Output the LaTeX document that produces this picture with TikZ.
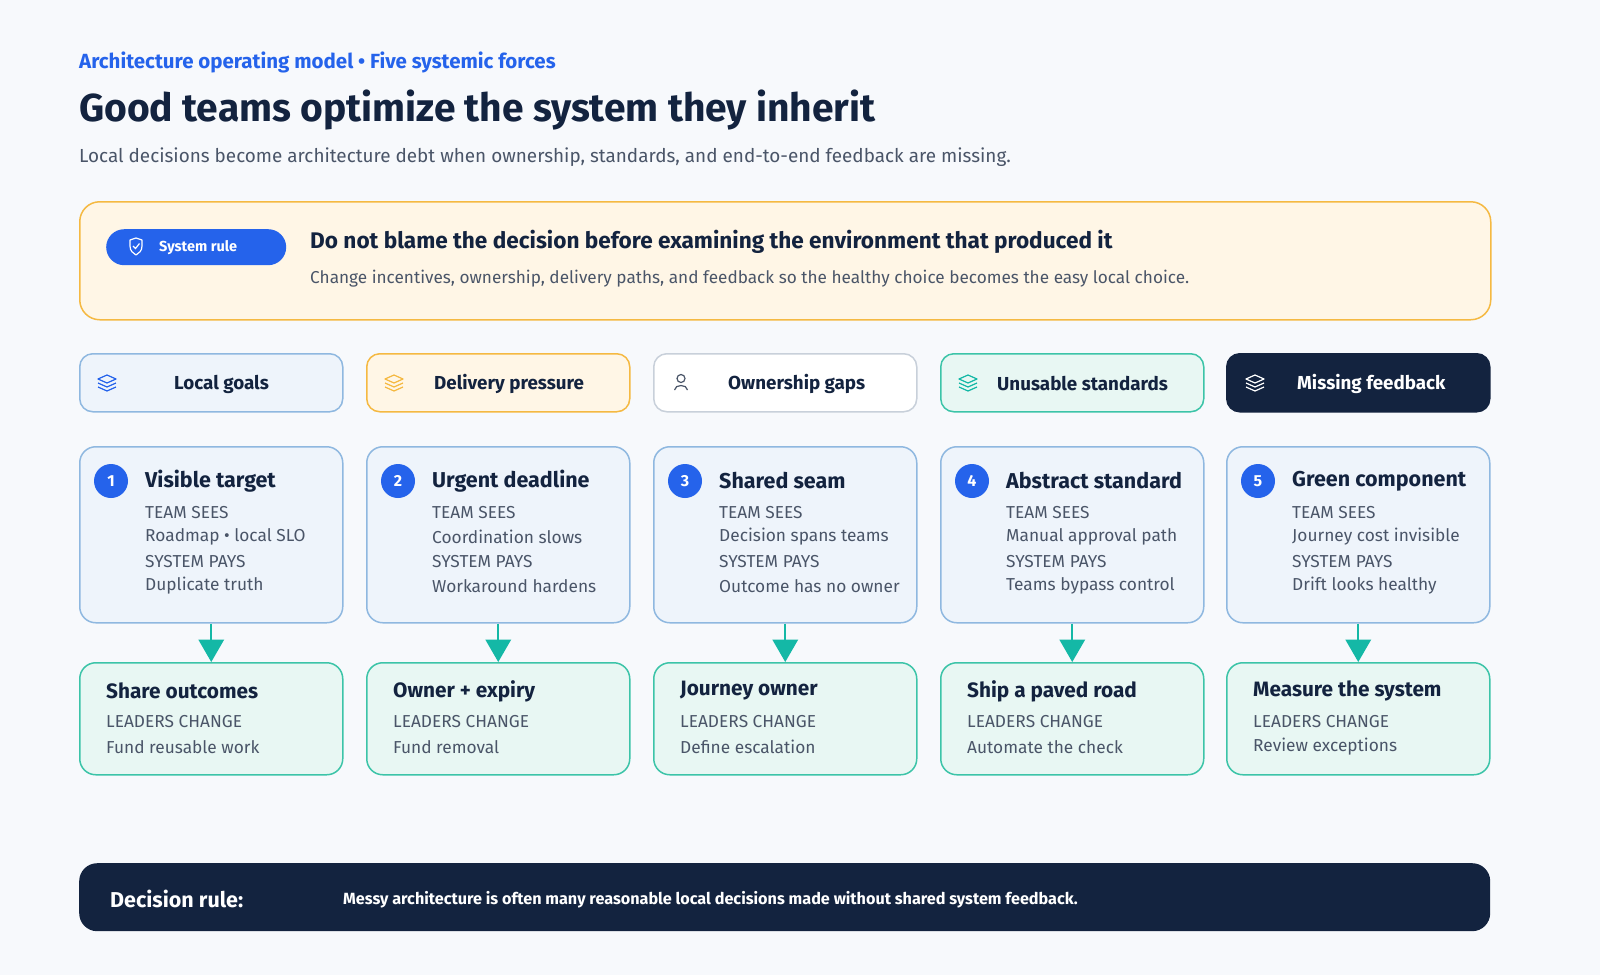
\documentclass[tikz,border=0pt]{standalone}
\usepackage{fontspec}
\setmainfont{Fira Sans}
\begin{document}
\begin{tikzpicture}[x=1pt,y=-1pt,
  txt/.style={anchor=west,inner sep=0pt},
  force/.style={rounded corners=13pt,line width=1.5pt,minimum width=263pt,minimum height=58pt,anchor=north west},
  card/.style={rounded corners=16pt,line width=1.5pt,draw=cardB,fill=cardF,minimum width=263pt,minimum height=176pt,anchor=north west},
  act/.style={rounded corners=16pt,line width=1.5pt,draw=mintB,fill=mintF,minimum width=263pt,minimum height=112pt,anchor=north west},
  num/.style={circle,fill=blue1,text=white,minimum size=34pt,inner sep=0pt,font=\fontsize{16}{16}\selectfont\bfseries},
  ctitle/.style={txt,font=\fontsize{21.5}{21}\selectfont\bfseries,text=navy},
  cline/.style={txt,font=\fontsize{17.3}{17}\selectfont,text=gray1},
  arr/.style={draw=teal1,line width=2pt},
  ftxt/.style={font=\fontsize{18.8}{18}\selectfont\bfseries}
]
\definecolor{navy}{HTML}{13233F}
\definecolor{blue1}{HTML}{2563EB}
\definecolor{gray1}{HTML}{4A5568}
\definecolor{cardB}{HTML}{8FB8E0}
\definecolor{cardF}{HTML}{EEF4FB}
\definecolor{mintB}{HTML}{3CC4A8}
\definecolor{mintF}{HTML}{E8F7F3}
\definecolor{orB}{HTML}{F5B942}
\definecolor{orF}{HTML}{FFF6E6}
\definecolor{grB}{HTML}{C8D0DA}
\definecolor{teal1}{HTML}{14B8A6}
\definecolor{bg}{HTML}{F7F9FC}
\fill[bg] (0,0) rectangle (1600,975);
\useasboundingbox (0,0) rectangle (1600,975);

\node[txt,font=\fontsize{20.5}{20}\selectfont\bfseries,text=blue1] (kick) at (79,62) {Architecture operating model • Five systemic forces};
\node[txt,font=\fontsize{39}{39}\selectfont\bfseries,text=navy] (title) at (79,110) {Good teams optimize the system they inherit};
\node[txt,font=\fontsize{18.9}{19}\selectfont,text=gray1] (sub) at (79,157) {Local decisions become architecture debt when ownership, standards, and end-to-end feedback are missing.};

\node[draw=orB,fill=orF,line width=1.5pt,rounded corners=20pt,minimum width=1411pt,minimum height=118pt,anchor=north west] (rule) at (79,201) {};
\node[fill=blue1,rounded corners=18pt,minimum width=180pt,minimum height=36pt,anchor=north west] (pill) at (106,229) {};
\node[txt,text=white,font=\fontsize{14.5}{14}\selectfont\bfseries] (pilltxt) at (159,248) {System rule};
\draw[white,line width=1.2pt,line join=round] (130,240) -- (136,238) -- (142,240) -- (142,246) .. controls (142,251) and (139,253) .. (136,255) .. controls (133,253) and (130,251) .. (130,246) -- cycle;
\draw[white,line width=1.2pt] (133,246) -- (135.5,248.5) -- (139.5,243.5);
\node[txt,font=\fontsize{22.6}{22}\selectfont\bfseries,text=navy] (rh) at (310,242) {Do not blame the decision before examining the environment that produced it};
\node[txt,font=\fontsize{17.2}{17}\selectfont,text=gray1] (rs) at (310,279) {Change incentives, ownership, delivery paths, and feedback so the healthy choice becomes the easy local choice.};

% forces
\def\layers#1#2#3{%
  \begin{scope}[shift={(#1,#2)},draw=#3,line width=1.2pt,line join=round]
  \draw (0,-6) -- (9,-2) -- (0,2) -- (-9,-2) -- cycle;
  \draw (-9,2) -- (0,6) -- (9,2);
  \draw (-9,6) -- (0,10) -- (9,6);
  \end{scope}}
\node[force,draw=cardB,fill=cardF] (f1) at (79,353) {};
\layers{107}{381}{blue1}
\node[txt,ftxt,text=navy] (f1t) at (174,384) {Local goals};
\node[force,draw=orB,fill=orF] (f2) at (366,353) {};
\layers{394}{381}{orB}
\node[txt,ftxt,text=navy] (f2t) at (434,384) {Delivery pressure};
\node[force,draw=grB,fill=white] (f3) at (653,353) {};
\draw[gray1,line width=1.2pt] (681,378.5) circle (4pt);
\draw[gray1,line width=1.2pt] (674.5,390) .. controls (675,384) and (687,384) .. (687.5,390);
\node[txt,ftxt,text=navy] (f3t) at (728,384) {Ownership gaps};
\node[force,draw=mintB,fill=mintF] (f4) at (940,353) {};
\layers{968}{381}{teal1}
\node[txt,ftxt,text=navy] (f4t) at (997,384) {Unusable standards};
\node[force,draw=navy,fill=navy] (f5) at (1226,353) {};
\layers{1255}{381}{white}
\node[txt,ftxt,text=white] (f5t) at (1297,384) {Missing feedback};

% cards
\foreach \i/\x/\t/\a/\b/\h/\la/\lb in {
 1/79/Visible target/Roadmap • local SLO/Duplicate truth/Share outcomes/Fund reusable work/,
 2/366/Urgent deadline/Coordination slows/Workaround hardens/Owner + expiry/Fund removal/,
 3/653/Shared seam/Decision spans teams/Outcome has no owner/Journey owner/Define escalation/,
 4/940/Abstract standard/Manual approval path/Teams bypass control/Ship a paved road/Automate the check/,
 5/1226/Green component/Journey cost invisible/Drift looks healthy/Measure the system/Review exceptions/}{
 \node[card] (c\i) at (\x,446) {};
 \node[num] (n\i) at (\x+32,481) {\i};
 \node[ctitle] (ct\i) at (\x+66,481) {\t};
 \node[cline] (ca\i) at (\x+66,513) {TEAM SEES};
 \node[cline] (cb\i) at (\x+66,537) {\a};
 \node[cline] (cc\i) at (\x+66,562) {SYSTEM PAYS};
 \node[cline] (cd\i) at (\x+66,586) {\b};
 \node[act] (a\i) at (\x,662) {};
 \node[ctitle,font=\fontsize{20.8}{20}\selectfont\bfseries] (at\i) at (\x+27,691) {\h};
 \node[cline] (aa\i) at (\x+27,722) {LEADERS CHANGE};
 \node[cline] (ab\i) at (\x+27,747) {\la};
 \draw[arr] (c\i.south) -- ([yshift=-16pt]c\i.south);
 \fill[teal1] ([xshift=-13pt,yshift=-16pt]c\i.south) -- ([xshift=13pt,yshift=-16pt]c\i.south) -- (a\i.north) -- cycle;
}

% footer
\node[fill=navy,rounded corners=18pt,minimum width=1411pt,minimum height=68pt,anchor=north west] (foot) at (79,863) {};
\node[txt,text=white,font=\fontsize{21.5}{21}\selectfont\bfseries] (fr) at (110,899) {Decision rule:};
\node[txt,text=white,font=\fontsize{16.2}{16}\selectfont\bfseries] (ft) at (343,900) {Messy architecture is often many reasonable local decisions made without shared system feedback.};
\end{tikzpicture}
\end{document}
